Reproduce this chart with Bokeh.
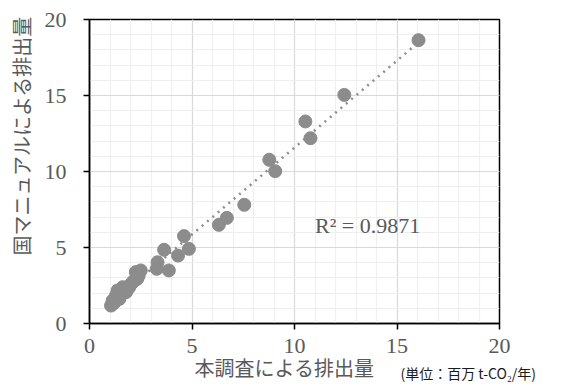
import numpy as np
from bokeh.plotting import figure
from bokeh.models import Range1d, SingleIntervalTicker, Label, ColumnDataSource, Title
from bokeh.embed import file_html
from bokeh.resources import INLINE

# Data (million t-CO2/year)
survey = [16.05, 12.43, 10.53, 10.78, 8.77, 9.06, 7.55, 6.70, 6.31,
          4.61, 4.85, 3.64, 4.32, 3.32, 3.28, 3.87,
          2.50, 2.26, 2.33, 2.10, 1.94, 1.62, 1.37, 1.78, 1.29, 1.13, 1.05, 1.46,
          2.40, 2.20, 2.00, 1.85, 1.55, 1.20]
manual = [18.64, 15.04, 13.29, 12.19, 10.77, 10.02, 7.81, 6.95, 6.49,
          5.75, 4.91, 4.85, 4.47, 4.03, 3.60, 3.49,
          3.49, 3.38, 2.94, 2.72, 2.39, 2.39, 2.17, 2.06, 1.84, 1.51, 1.18, 1.62,
          3.15, 2.85, 2.55, 2.25, 1.95, 1.35]
x_label = "本調査による排出量"
y_label = "国マニュアルによる排出量"
unit_label = "(単位：百万 t-CO₂/年)"
r2_text = "R² = 0.9871"

# linear trendline from the data (as spreadsheet trendline)
slope, intercept = np.polyfit(survey, manual, 1)
tx = [min(survey), max(survey)]
ty = [slope * v + intercept for v in tx]

serif = "Liberation Serif"
jp = "Noto Sans CJK JP"
grey_text = "#595959"
mark = "#8c8c8c"

p = figure(width=564, height=386, output_backend="svg", toolbar_location=None,
           x_range=Range1d(0, 20), y_range=Range1d(0, 20),
           min_border_left=87, min_border_right=65, min_border_top=19, min_border_bottom=63)
p.background_fill_color = "white"
p.border_fill_color = "white"
p.outline_line_color = "black"
p.outline_line_width = 1.5

for ax in (p.xaxis[0], p.yaxis[0]):
    ax.ticker = SingleIntervalTicker(interval=5, num_minor_ticks=5)
    ax.axis_line_color = "black"
    ax.axis_line_width = 1.5
    ax.major_tick_line_color = "black"
    ax.major_tick_line_width = 1.5
    ax.major_tick_out = 6
    ax.major_tick_in = 0
    ax.minor_tick_line_color = None
    ax.major_label_text_font = serif
    ax.major_label_text_font_size = "22px"
    ax.major_label_text_color = grey_text

p.xaxis.major_label_standoff = 9
p.yaxis.major_label_standoff = 17

for g in (p.xgrid[0], p.ygrid[0]):
    g.ticker = SingleIntervalTicker(interval=5, num_minor_ticks=5)
    g.grid_line_color = "#d9d9d9"
    g.grid_line_width = 1.2
    g.minor_grid_line_color = "#efefef"
    g.minor_grid_line_width = 1.2

src = ColumnDataSource(dict(x=survey, y=manual))
p.line(tx, ty, line_color=mark, line_width=2.5, line_dash="2 5")
p.scatter("x", "y", source=src, size=13, fill_color=mark, line_color=mark)

p.add_layout(Label(x=11.0, y=6.45, text=r2_text, text_font=serif, text_font_size="22px",
                   text_color=grey_text, text_baseline="alphabetic", text_align="left"))

# axis titles
p.add_layout(Title(text=y_label, align="right", offset=-4, vertical_align="middle",
                   standoff=10, text_font=jp, text_font_size="20px", text_font_style="normal",
                   text_color=grey_text), "left")
p.add_layout(Title(text=x_label, align="left", offset=105, vertical_align="bottom",
                   standoff=-9, text_font=jp, text_font_size="20px", text_font_style="normal",
                   text_color=grey_text), "below")
p.add_layout(Title(text=unit_label, align="left", offset=311, vertical_align="top",
                   standoff=-30, text_font=jp, text_font_size="14px", text_font_style="normal",
                   text_color="#1a1a1a"), "below")

open("out.html", "w").write(file_html(p, INLINE))
